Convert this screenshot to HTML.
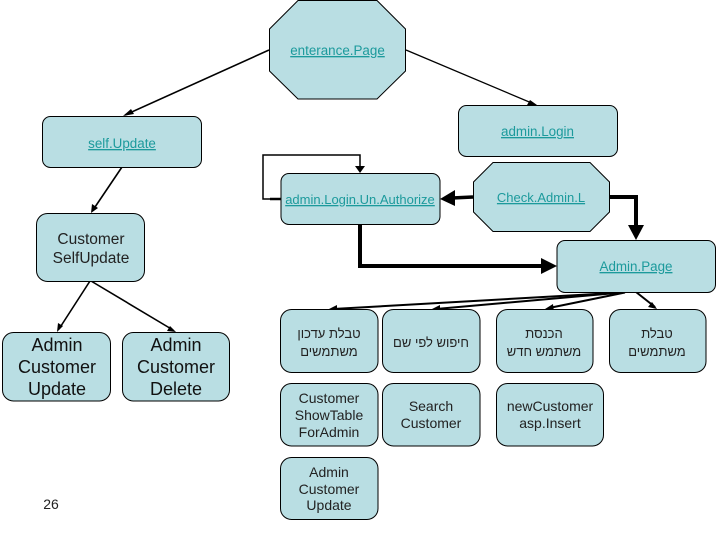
<!DOCTYPE html>
<html><head><meta charset="utf-8"><style>
html,body{margin:0;padding:0;background:#fff;width:720px;height:540px;overflow:hidden}
svg{display:block}
.s{fill:#b9dee3;stroke:#000;stroke-width:1}
text{font-family:"Liberation Sans",sans-serif;text-anchor:middle;fill:#222}
.l{font-size:13.4px;fill:#1c9a9c;text-decoration:underline}
.n{font-size:14px}
.m{font-size:15.5px}
.b{font-size:18px;fill:#111}
.h{font-size:13px;direction:rtl}
.c{stroke:#000;fill:none}
</style></head><body>
<svg width="720" height="540" viewBox="0 0 720 540" xmlns="http://www.w3.org/2000/svg">
<!-- connectors -->
<g class="c">
<path d="M269 50L125 115" stroke-width="1.6"/>
<path d="M406 50L534 104" stroke-width="1.3"/>
<path d="M122 167L93 210" stroke-width="1.6"/>
<path d="M90 281L59 329" stroke-width="1.6"/>
<path d="M91 281L173 330" stroke-width="1.6"/>
<path d="M281 199H263V155H360V168" stroke-width="1.5"/>
<path d="M270 199H281" stroke-width="2.5"/>
<path d="M473 197L452 198" stroke-width="3.5"/>
<path d="M609 197H636V226" stroke-width="4"/>
<path d="M360 224V266H544" stroke-width="4"/>
<path d="M622 292.500L333 309" stroke-width="2"/>
<path d="M622 292.500L436 309" stroke-width="2"/>
<path d="M625 292.500L549 308" stroke-width="2"/>
<path d="M636 292L655 307" stroke-width="2"/>
</g>
<g fill="#000">
<path d="M123 116L131 109L134 114Z"/>
<path d="M537 105L527 105L530 100Z"/>
<path d="M91 213L92 204L98 208Z"/>
<path d="M57 332L58 323L63 326Z"/>
<path d="M176 332L167 331L170 326Z"/>
<path d="M360 173L355 166H365Z"/>
<path d="M440 199L455 190V206Z"/>
<path d="M636 240L628 225H644Z"/>
<path d="M557 266L541 258V274Z"/>
<path d="M329 309L337 305V313Z"/>
<path d="M432 309L440 305V313Z"/>
<path d="M545 309L553 304L554 312Z"/>
<path d="M657 309L648 307L652 302Z"/>
</g>
<!-- shapes -->
<path class="s" d="M298 0.5H377L405.5 29V71L377 99H298L269.5 71V29Z"/>
<rect class="s" x="42.5" y="116.5" width="159" height="51" rx="8"/>
<rect class="s" x="458.5" y="105.5" width="159" height="51" rx="8"/>
<rect class="s" x="281" y="173.5" width="159" height="51" rx="8"/>
<path class="s" d="M493 162.5H590L609.5 182V212L590 231.5H493L473.5 212V182Z"/>
<rect class="s" x="557" y="240.5" width="158.5" height="52" rx="8"/>
<rect class="s" x="36.5" y="213.5" width="108" height="68" rx="11"/>
<rect class="s" x="2.5" y="332.5" width="108" height="68.500" rx="11"/>
<rect class="s" x="122.500" y="332.5" width="107" height="68.500" rx="11"/>
<rect class="s" x="280.500" y="309.500" width="97.500" height="63" rx="11"/>
<rect class="s" x="382.500" y="309.500" width="97.500" height="63" rx="11"/>
<rect class="s" x="496.500" y="309.500" width="96.500" height="63" rx="11"/>
<rect class="s" x="609.500" y="309.500" width="96.500" height="63" rx="11"/>
<rect class="s" x="280.500" y="383.500" width="97.500" height="62.500" rx="11"/>
<rect class="s" x="382.500" y="383.500" width="97.500" height="62.500" rx="11"/>
<rect class="s" x="496.500" y="383.500" width="107" height="62.500" rx="11"/>
<rect class="s" x="280.500" y="457.500" width="97.500" height="62" rx="11"/>
<!-- labels -->
<text class="l" x="337.500" y="55">enterance.Page</text>
<text class="l" x="122" y="148">self.Update</text>
<text class="l" x="537.500" y="136">admin.Login</text>
<text class="l" x="360" y="204" style="font-size:13px">admin.Login.Un.Authorize</text>
<text class="l" x="541" y="202" style="font-size:13px">Check.Admin.L</text>
<text class="l" x="636" y="271">Admin.Page</text>
<text class="m" x="91" y="244">Customer</text>
<text class="m" x="91" y="263">SelfUpdate</text>
<text class="b" x="57" y="351">Admin</text>
<text class="b" x="57" y="373">Customer</text>
<text class="b" x="57" y="395">Update</text>
<text class="b" x="176" y="351">Admin</text>
<text class="b" x="176" y="373">Customer</text>
<text class="b" x="176" y="395">Delete</text>
<text class="h" x="329" y="338">טבלת עדכון</text>
<text class="h" x="329" y="356">משתמשים</text>
<text class="h" x="431" y="347">חיפוש לפי שם</text>
<text class="h" x="544" y="338">הכנסת</text>
<text class="h" x="544" y="356">משתמש חדש</text>
<text class="h" x="657" y="338">טבלת</text>
<text class="h" x="657" y="356">משתמשים</text>
<text class="n" x="329" y="403">Customer</text>
<text class="n" x="329" y="420">ShowTable</text>
<text class="n" x="329" y="437">ForAdmin</text>
<text class="n" x="431" y="411">Search</text>
<text class="n" x="431" y="428">Customer</text>
<text class="n" x="550" y="411">newCustomer</text>
<text class="n" x="550" y="428">asp.Insert</text>
<text class="n" x="329" y="477">Admin</text>
<text class="n" x="329" y="494">Customer</text>
<text class="n" x="329" y="510">Update</text>
<text class="n" x="51" y="509">26</text>
</svg>
</body></html>
